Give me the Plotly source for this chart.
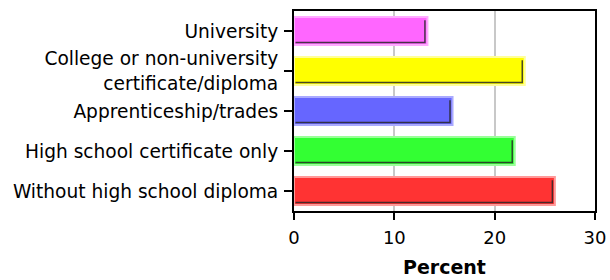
import plotly.graph_objects as go

categories = ["Without high school diploma", "High school certificate only",
              "Apprenticeship/trades", "College or non-university<br>certificate/diploma",
              "University"]
values = [26.0, 22.0, 15.8, 23.0, 13.3]
colors = ["#FF3333", "#33FF33", "#6666FF", "#FFFF00", "#FF66FF"]
edge_colors = ["#FF9999", "#99FF99", "#AAAAFF", "#FFFF99", "#FFAAFF"]
x_ticks = [0, 10, 20, 30]
x_title = "Percent"

positions = list(range(len(categories)))
bar_w = 0.7

fig = go.Figure()
fig.add_trace(go.Bar(
    y=positions, x=values, orientation="h", width=bar_w,
    marker=dict(color=colors, line=dict(color=edge_colors, width=2)),
    hoverinfo="skip",
))
# dark inner shadow along right and bottom edges of each bar
for p, v in zip(positions, values):
    fig.add_trace(go.Scatter(
        x=[0.15, v - 0.25, v - 0.25],
        y=[p - bar_w / 2 + 0.06, p - bar_w / 2 + 0.06, p + bar_w / 2 - 0.08],
        mode="lines", line=dict(color="rgba(40,40,40,0.85)", width=1.5),
        hoverinfo="skip",
    ))
fig.update_layout(
    width=610, height=280,
    margin=dict(l=294, r=15, t=11, b=69),
    paper_bgcolor="white", plot_bgcolor="white",
    font=dict(family="DejaVu Sans, sans-serif", size=18.6, color="black"),
    showlegend=False,
    hovermode=False,
    annotations=[dict(text="<b>" + x_title + "</b>", xref="paper", yref="paper",
                      x=0.5, y=-0.28, xanchor="center", yanchor="middle",
                      showarrow=False, font=dict(size=19))],
)
fig.update_xaxes(
    range=[0, 30], tickvals=x_ticks, ticks="outside", ticklen=7, tickcolor="black", tickwidth=2,
    showgrid=True, gridcolor="#C8C8C8", gridwidth=2,
    showline=True, linecolor="black", linewidth=2, mirror=True, zeroline=False,
    ticklabelstandoff=2, tickfont=dict(size=18), automargin=False,
)
fig.update_yaxes(
    range=[-0.5, 4.5], tickvals=positions, ticktext=categories,
    ticks="outside", ticklen=8, tickcolor="black", tickwidth=2,
    showgrid=False, zeroline=False,
    showline=True, linecolor="black", linewidth=2, mirror=True,
    ticklabelstandoff=2, automargin=False,
)
fig.write_html("out.html", config={"displayModeBar": False},
               post_script="document.body.style.margin='0';")
